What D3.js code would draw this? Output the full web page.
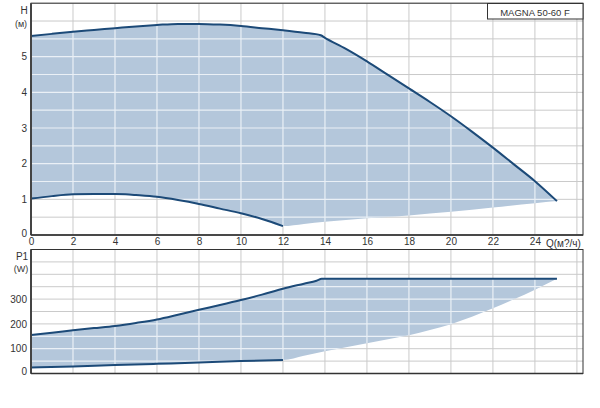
<!DOCTYPE html>
<html><head><meta charset="utf-8">
<script src="https://cdn.jsdelivr.net/npm/d3@7"></script>
<style>body{margin:0;background:#fff}svg{display:block;font-family:"Liberation Sans",Arial,sans-serif}</style>
</head><body><svg id="c" width="600" height="408"></svg>
<script>
// ---- data ----
const qTicks = [0,2,4,6,8,10,12,14,16,18,20,22,24];
const hTicks = [0,1,2,3,4,5];
const pTicks = [0,100,200,300];
// H (m) vs Q (m3/h)
const hMax = [[0,5.58],[1,5.64],[2,5.70],[3,5.75],[4,5.80],[5,5.85],[6,5.89],[7,5.92],[8,5.92],[9,5.90],[10,5.86],[11,5.80],[12,5.74],[13,5.67],[13.8,5.60],[14,5.53],[15,5.22],[16,4.87],[17,4.49],[18,4.11],[19,3.73],[20,3.33],[21,2.90],[22,2.45],[23,1.98],[24,1.51],[25.05,0.95]];
const hMin = [[0,1.02],[1,1.09],[2,1.14],[3,1.15],[4,1.15],[4.5,1.14],[5,1.12],[6,1.07],[7,0.98],[8,0.87],[9,0.74],[10,0.61],[11,0.45],[12,0.25]];
const hEdge = [[12,0.25],[13,0.31],[14,0.37],[16,0.47],[18,0.55],[20,0.65],[22,0.77],[24,0.89],[25.05,0.95]];
// P1 (W) vs Q
const pMax = [[0,155],[1,164],[2,174],[3,183],[4,192],[5,204],[6,218],[7,237],[8,257],[9,276],[10,296],[11,318],[12,342],[13,362],[13.6,374],[13.85,382],[25.05,382]];
const pMin = [[0,24],[2,28],[4,34],[6,39],[8,44],[10,50],[12,54]];
const pEdge = [[12,54],[13,72],[14,90],[15,106],[16,122],[17,138],[18,154],[19,175],[20,199],[21,229],[22,263],[23,299],[24,338],[25.05,382]];

const svg = d3.select("#c");
const L = 31, R = 583;
const x = d3.scaleLinear().domain([0, 26.29]).range([L, R]);
const yH = d3.scaleLinear().domain([0, 6.5]).range([235, 3.2]);
const yP = d3.scaleLinear().domain([0, 500]).range([373.5, 249.5]);

const lineCol = "#1c4a78", fillCol = "#b4c7db", gridCol = "#cacaca", textCol = "#333";
let clipId = 0;

function panel(y, yStep, upper, lower, edge) {
  const [y0, y1] = y.domain();
  const top = y.range()[1], bot = y.range()[0];
  const g = svg.append("g");
  const xs = d3.range(0, 26.3, 2);
  const ys = d3.range(y0, y1 + 1e-9, yStep);
  function grid(sel, col, w) {
    sel.selectAll("line.v").data(xs).join("line").attr("class", "v")
      .attr("x1", d => x(d)).attr("x2", d => x(d)).attr("y1", top).attr("y2", bot)
      .attr("stroke", col).attr("stroke-width", w);
    sel.selectAll("line.h").data(ys).join("line").attr("class", "h")
      .attr("x1", L).attr("x2", R).attr("y1", d => y(d)).attr("y2", d => y(d))
      .attr("stroke", col).attr("stroke-width", w);
  }
  grid(g.append("g"), gridCol, 1);
  const ln = d3.line().x(d => x(d[0])).y(d => y(d[1])).curve(d3.curveMonotoneX);
  const boundary = lower.concat(edge.slice(1)).slice().reverse();
  const areaPath = ln(upper) + ln(boundary).replace(/^M/, "L") + "Z";
  g.append("path").attr("d", areaPath).attr("fill", fillCol);
  const id = "clip" + (clipId++);
  svg.append("clipPath").attr("id", id).append("path").attr("d", areaPath);
  grid(g.append("g").attr("clip-path", `url(#${id})`), "#eaf0f6", 1.2);
  g.append("path").attr("d", ln(upper)).attr("fill", "none").attr("stroke", lineCol).attr("stroke-width", 2);
  g.append("path").attr("d", ln(lower)).attr("fill", "none").attr("stroke", lineCol).attr("stroke-width", 2);
  // frame
  g.append("rect").attr("x", L).attr("y", top).attr("width", R - L).attr("height", bot - top)
    .attr("fill", "none").attr("stroke", "#333").attr("stroke-width", 1);
  g.append("line").attr("x1", L).attr("x2", L).attr("y1", top).attr("y2", bot).attr("stroke", "#444").attr("stroke-width", 2);
  g.append("line").attr("x1", L).attr("x2", R).attr("y1", bot).attr("y2", bot).attr("stroke", "#333").attr("stroke-width", 1.5);
  return g;
}

const g1 = panel(yH, 0.5, hMax, hMin, hEdge);
const g2 = panel(yP, 50, pMax, pMin, pEdge);

// axes (D3 axes, styled without domain/ticks)
const axX = d3.axisBottom(x).tickValues(qTicks).tickSize(0).tickPadding(3).tickFormat(d3.format("d"));
const ax1 = svg.append("g").attr("transform", "translate(0,235)").call(axX);
const axH = d3.axisLeft(yH).tickValues(hTicks).tickSize(0).tickPadding(4).tickFormat(d3.format("d"));
const ay1 = svg.append("g").attr("transform", `translate(${L},0)`).call(axH);
const axP = d3.axisLeft(yP).tickValues(pTicks).tickSize(0).tickPadding(4).tickFormat(d3.format("d"));
const ay2 = svg.append("g").attr("transform", `translate(${L},0)`).call(axP);
[ax1, ay1, ay2].forEach(a => {
  a.select(".domain").remove();
  a.selectAll("text").attr("fill", textCol).style("font-size", "10px").style("font-family", "'Liberation Sans',Arial,sans-serif");
});
ay1.selectAll(".tick").filter(d => d === 0).select("text").attr("dy", "0.1em");
ay2.selectAll(".tick").filter(d => d === 0).select("text").attr("dy", "0.05em");

function label(t, xx, yy, anchor = "middle", size = 10) {
  svg.append("text").attr("x", xx).attr("y", yy).attr("text-anchor", anchor)
    .attr("dominant-baseline", "central").attr("fill", textCol).style("font-size", size + "px").text(t);
}
label("H", 24, 10);
label("(м)", 21, 24, "middle", 9);
label("P1", 22, 256);
label("(W)", 21, 269, "middle", 9);
label("Q(м?/ч)", 546, 243, "start");

// model box
svg.append("rect").attr("x", 487.5).attr("y", 3.5).attr("width", R - 487.5).attr("height", 15.5)
  .attr("fill", "#fff").attr("stroke", "#333").attr("stroke-width", 1);
label("MAGNA 50-60  F", 535, 12, "middle", 9.5);
</script></body></html>
